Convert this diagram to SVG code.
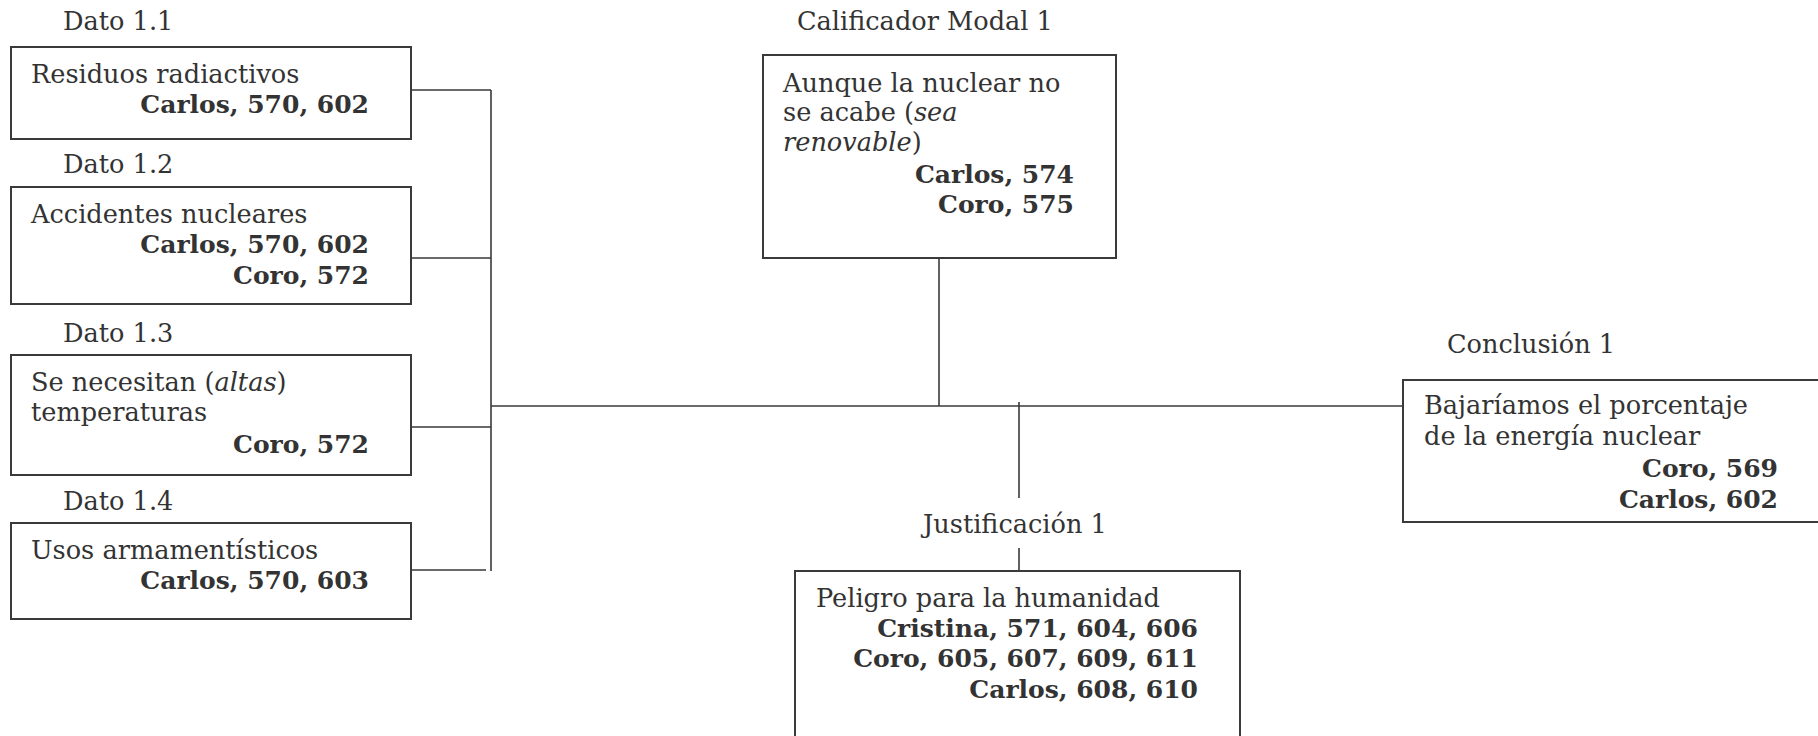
<svg xmlns="http://www.w3.org/2000/svg" width="1818" height="736" viewBox="0 0 1818 736">
  <style>
    text { font-family: "DejaVu Serif", "Liberation Serif", serif; font-size: 25.6px; fill: #333; }
    .b { font-weight: bold; font-size: 25px; text-anchor: end; }
    .box { fill: none; stroke: #3a3a3a; stroke-width: 2; }
    .ln { fill: none; stroke: #3a3a3a; stroke-width: 1.6; }
    .i { font-style: italic; }
  </style>
  <rect width="1818" height="736" fill="#fff"/>

  <g id="connectors">
    <path class="ln" d="M411 90 H491 M411 258 H491 M411 427 H491 M411 570 H486 M491 90 V571"/>
    <path class="ln" d="M491 406 H1403"/>
    <path class="ln" d="M939 258 V406"/>
    <path class="ln" d="M1019 402 V498 M1019 548 V571"/>
  </g>

  <g id="dato-1-1">
    <text x="63" y="30">Dato 1.1</text>
    <rect class="box" x="11" y="47" width="400" height="92"/>
    <text x="31" y="83">Residuos radiactivos</text>
    <text class="b" x="369" y="113">Carlos, 570, 602</text>
  </g>

  <g id="dato-1-2">
    <text x="63" y="173">Dato 1.2</text>
    <rect class="box" x="11" y="187" width="400" height="117"/>
    <text x="31" y="223">Accidentes nucleares</text>
    <text class="b" x="369" y="253">Carlos, 570, 602</text>
    <text class="b" x="369" y="284">Coro, 572</text>
  </g>

  <g id="dato-1-3">
    <text x="63" y="342">Dato 1.3</text>
    <rect class="box" x="11" y="355" width="400" height="120"/>
    <text x="31" y="391">Se necesitan (<tspan class="i">altas</tspan>)</text>
    <text x="31" y="421">temperaturas</text>
    <text class="b" x="369" y="453">Coro, 572</text>
  </g>

  <g id="dato-1-4">
    <text x="63" y="510">Dato 1.4</text>
    <rect class="box" x="11" y="523" width="400" height="96"/>
    <text x="31" y="559">Usos armamentísticos</text>
    <text class="b" x="369" y="589">Carlos, 570, 603</text>
  </g>

  <g id="calificador-modal-1">
    <text x="797" y="30">Calificador Modal 1</text>
    <rect class="box" x="763" y="55" width="353" height="203"/>
    <text x="783" y="92">Aunque la nuclear no</text>
    <text x="783" y="121">se acabe (<tspan class="i">sea</tspan></text>
    <text x="783" y="151"><tspan class="i">renovable</tspan>)</text>
    <text class="b" x="1074" y="183">Carlos, 574</text>
    <text class="b" x="1074" y="213">Coro, 575</text>
  </g>

  <g id="justificacion-1">
    <text x="923" y="533">Justificación 1</text>
    <rect class="box" x="795" y="571" width="445" height="180"/>
    <text x="816" y="607">Peligro para la humanidad</text>
    <text class="b" x="1198" y="637">Cristina, 571, 604, 606</text>
    <text class="b" x="1198" y="667">Coro, 605, 607, 609, 611</text>
    <text class="b" x="1198" y="698">Carlos, 608, 610</text>
  </g>

  <g id="conclusion-1">
    <text x="1447" y="353">Conclusión 1</text>
    <rect class="box" x="1403" y="380" width="430" height="142"/>
    <text x="1424" y="414">Bajaríamos el porcentaje</text>
    <text x="1424" y="445">de la energía nuclear</text>
    <text class="b" x="1778" y="477">Coro, 569</text>
    <text class="b" x="1778" y="508">Carlos, 602</text>
  </g>
</svg>
